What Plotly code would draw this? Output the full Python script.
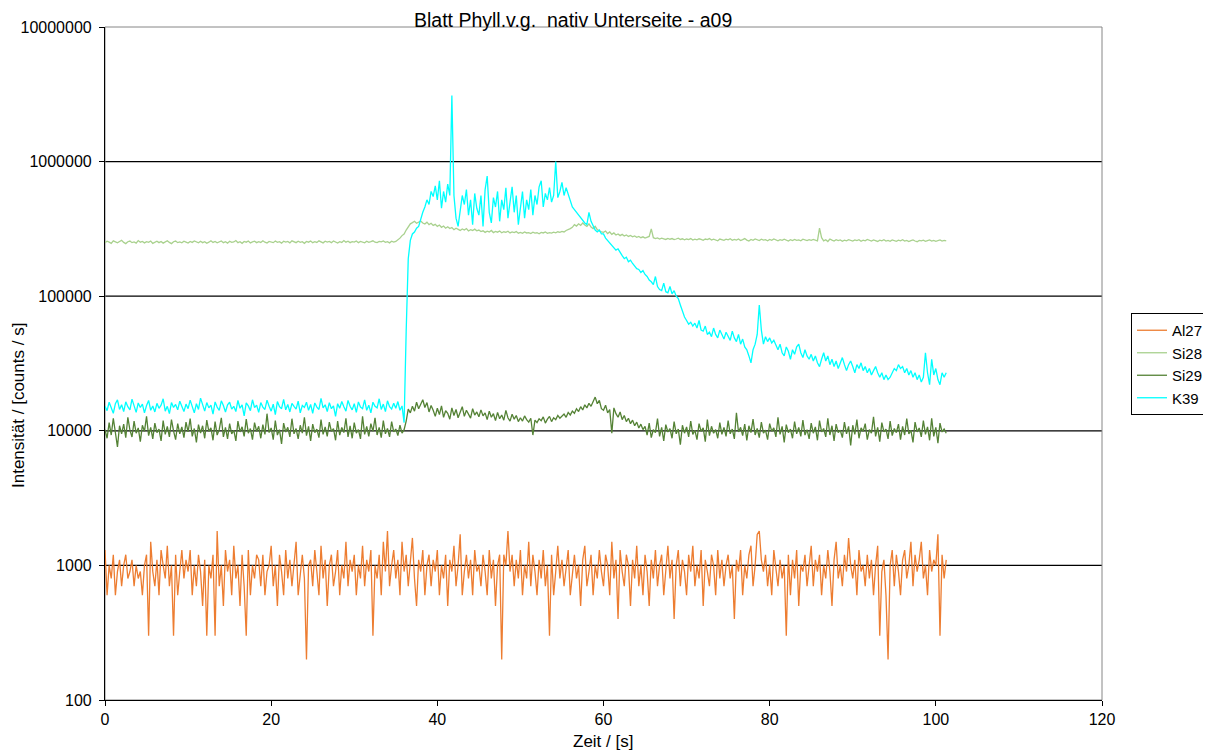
import plotly.graph_objects as go

# ---------------- data ----------------
time_start = 0.0
time_step = 0.25  # s

series_names = ["Al27", "Si28", "Si29", "K39"]
series_colors = ["#ED7D31", "#A9D18E", "#548235", "#00FFFF"]

al27 = [
    1300, 600, 1000, 800, 1200, 600, 900, 1100, 700, 1000, 1200, 800, 900, 1100, 700, 1000, 800, 900, 600, 1000,
    1200, 300, 1500, 900, 700, 1100, 600, 1300, 1000, 800, 1400, 700, 1000, 300, 1200, 600, 900, 1300, 800, 1100,
    900, 1300, 600, 1000, 700, 1200, 900, 500, 1100, 300, 1000, 800, 1200, 300, 1800, 700, 1000, 500, 1300, 900,
    1100, 600, 1400, 800, 1000, 500, 1200, 700, 300, 1300, 600, 1000, 800, 1200, 1100, 700, 1200, 600, 900, 1000,
    1400, 700, 1000, 500, 1200, 900, 600, 1300, 800, 1100, 700, 1000, 1500, 600, 900, 1200, 800, 200, 1000, 1100,
    700, 1300, 900, 600, 1400, 800, 1100, 500, 1000, 1200, 700, 900, 1300, 600, 1000, 800, 1500, 700, 1100, 900,
    1200, 600, 1000, 800, 1400, 700, 1100, 900, 1300, 300, 1000, 800, 1200, 600, 1500, 900, 1800, 700, 1000, 1300,
    800, 1100, 600, 1500, 900, 1200, 700, 1000, 1600, 800, 500, 1100, 900, 1300, 600, 1000, 1200, 700, 1100, 900,
    1300, 600, 1000, 800, 1200, 500, 1100, 900, 1400, 700, 1000, 1700, 600, 900, 1200, 800, 1100, 600, 1300, 900,
    1000, 700, 1200, 900, 600, 1300, 800, 1100, 500, 1000, 1200, 200, 1200, 1000, 1800, 900, 1200, 700, 1100, 800,
    1300, 600, 1000, 800, 1500, 700, 1200, 900, 600, 1100, 800, 1300, 700, 1000, 300, 1200, 600, 900, 1400, 800,
    1100, 700, 1000, 1300, 600, 900, 1200, 800, 1000, 500, 1100, 1400, 700, 900, 1200, 600, 1000, 800, 1300, 900,
    700, 1200, 1000, 600, 1500, 800, 1100, 400, 1300, 900, 700, 1200, 1000, 500, 1100, 800, 1400, 700, 1000, 600,
    1200, 900, 500, 1100, 800, 1300, 700, 1000, 1200, 600, 900, 1400, 800, 1100, 400, 1000, 1300, 700, 1100, 900,
    600, 1200, 900, 1400, 700, 1000, 800, 1300, 500, 1100, 900, 700, 1200, 1000, 600, 1300, 800, 1100, 700, 1000,
    1200, 800, 1000, 400, 1100, 900, 1300, 600, 1000, 800, 1200, 1400, 700, 1000, 1700, 1800, 1100, 900, 1200, 700,
    1000, 600, 1300, 900, 700, 1100, 800, 1000, 300, 1200, 600, 1100, 800, 1300, 500, 1000, 900, 1200, 700, 1000,
    1400, 700, 1100, 900, 1200, 600, 1000, 800, 1300, 900, 500, 1100, 1500, 800, 1000, 700, 1200, 900, 1600, 1000,
    800, 1100, 600, 1300, 900, 1000, 700, 1200, 800, 1100, 600, 1000, 1400, 300, 900, 1100, 600, 200, 1000, 1300,
    700, 1200, 900, 600, 1100, 1300, 800, 1000, 1500, 700, 1200, 900, 1100, 1500, 800, 1000, 600, 1300, 900, 1100,
    1000, 1700, 300, 1200, 800, 1100,
]

si28 = [
    250000, 256000, 252000, 247000, 258000, 253000, 249000, 255000, 260000, 251000, 246000, 254000, 257000, 250000, 253000, 248000, 259000, 252000, 255000, 249000,
    254000, 251000, 257000, 247000, 253000, 256000, 250000, 255000, 248000, 252000, 258000, 251000, 246000, 254000, 257000, 250000, 253000, 249000, 256000, 252000,
    248000, 255000, 251000, 257000, 253000, 249000, 256000, 250000, 254000, 247000, 252000, 258000, 251000, 255000, 249000, 253000, 257000, 250000, 254000, 248000,
    256000, 251000, 253000, 259000, 250000, 254000, 247000, 255000, 252000, 257000, 249000, 253000, 256000, 250000, 254000, 251000, 258000, 252000, 248000, 255000,
    253000, 250000, 257000, 251000, 254000, 248000, 256000, 252000, 255000, 249000, 258000, 253000, 250000, 256000, 251000, 254000, 247000, 255000, 252000, 257000,
    250000, 254000, 251000, 258000, 253000, 249000, 256000, 252000, 255000, 250000, 257000, 253000, 248000, 254000, 251000, 259000, 252000, 256000, 250000, 254000,
    252000, 257000, 250000, 255000, 253000, 249000, 256000, 251000, 254000, 258000, 252000, 250000, 255000, 253000, 257000, 251000, 254000, 249000, 256000, 252000,
    255000, 262000, 270000, 282000, 290000, 310000, 330000, 345000, 352000, 360000, 348000, 356000, 362000, 350000, 344000, 355000, 340000, 348000, 336000, 342000,
    330000, 338000, 325000, 332000, 320000, 328000, 318000, 324000, 312000, 320000, 315000, 308000, 316000, 310000, 318000, 305000, 312000, 308000, 315000, 306000,
    310000, 302000, 306000, 298000, 304000, 300000, 308000, 297000, 303000, 299000, 305000, 296000, 301000, 298000, 304000, 295000, 300000, 297000, 302000, 294000,
    298000, 293000, 300000, 295000, 297000, 292000, 299000, 294000, 296000, 291000, 298000, 295000, 300000, 293000, 297000, 294000, 299000, 296000, 301000, 298000,
    303000, 300000, 308000, 312000, 318000, 325000, 340000, 332000, 345000, 336000, 350000, 338000, 330000, 345000, 326000, 318000, 330000, 312000, 305000, 300000,
    298000, 305000, 292000, 300000, 288000, 295000, 285000, 290000, 282000, 288000, 280000, 285000, 278000, 283000, 276000, 280000, 274000, 278000, 272000, 276000,
    270000, 274000, 278000, 316000, 272000, 268000, 271000, 266000, 270000, 267000, 264000, 269000, 265000, 268000, 263000, 266000, 270000, 264000, 267000, 262000,
    266000, 263000, 268000, 261000, 265000, 262000, 267000, 264000, 260000, 266000, 263000, 268000, 261000, 265000, 262000, 258000, 266000, 263000, 260000, 265000,
    262000, 267000, 260000, 264000, 261000, 266000, 259000, 263000, 268000, 261000, 257000, 264000, 260000, 266000, 262000, 259000, 265000, 261000, 263000, 258000,
    264000, 260000, 266000, 262000, 258000, 263000, 260000, 265000, 261000, 257000, 263000, 259000, 264000, 260000, 262000, 258000, 265000, 261000, 259000, 263000,
    260000, 264000, 262000, 258000, 320000, 272000, 258000, 263000, 255000, 266000, 261000, 257000, 263000, 259000, 262000, 256000, 261000, 258000, 263000, 260000,
    257000, 262000, 259000, 263000, 256000, 261000, 258000, 264000, 260000, 257000, 262000, 259000, 255000, 261000, 258000, 263000, 257000, 260000, 256000, 262000,
    259000, 256000, 261000, 258000, 263000, 257000, 260000, 255000, 259000, 262000, 257000, 254000, 260000, 258000, 261000, 256000, 259000, 262000, 257000, 260000,
    256000, 259000, 262000, 257000, 260000, 258000,
]

si29 = [
    10200, 8800, 11500, 9300, 12400, 9800, 7600, 10900, 9500, 11200, 8900, 12600, 10100, 9000, 11800, 9600, 10500, 8300, 11000, 9900,
    12800, 9200, 10600, 8700, 11400, 9700, 10300, 8400, 11900, 9400, 10800, 9000, 12100, 10000, 8600, 11300, 9500, 10700, 8900, 11600,
    9800, 12300, 9100, 10400, 8200, 11100, 9600, 10900, 8800, 12000, 9900, 10500, 8500, 11700, 9300, 10200, 12500, 9000, 10600, 8700,
    11300, 9500, 10100, 8400, 11800, 9800, 10700, 9100, 12200, 9600, 10400, 8600, 11500, 9900, 10800, 8800, 11100, 9400, 13400, 9700,
    10500, 8600, 11900, 9300, 10200, 8000, 11400, 9800, 10600, 9000, 12300, 9500, 10400, 8700, 11000, 9600, 12600, 9200, 10800, 8400,
    11200, 9700, 10300, 8900, 12100, 9400, 10700, 9100, 11600, 9900, 10400, 8500, 11800, 9300, 10600, 9700, 12400, 9000, 10900, 8800,
    11500, 9600, 10200, 8700, 12800, 9400, 10800, 9100, 11300, 9900, 12500, 9300, 10600, 8900, 11900, 9500, 10400, 9000, 11700, 9800,
    10300, 9200, 11000, 9600, 10200, 11800, 14500, 13600, 15200, 14000, 16300, 14600, 15800, 17000, 14900, 16200, 13800, 15400, 14200, 12800,
    14700, 13200, 15300, 12600, 14100, 13500, 12200, 14800, 13000, 14400, 12500, 13900, 15100, 12800, 14200, 13300, 12400, 14600, 13100, 13800,
    12700, 14300, 12900, 13600, 12100, 14000, 12600, 13400, 11900, 13700, 12300, 13100, 12000, 14200, 12500, 11800, 13300, 12200, 13000, 11700,
    12500, 11800, 12900, 12100, 11600, 12400, 9300, 12000, 11500, 12300, 11900, 12700, 11400, 12200, 12800, 11700, 12500, 12100, 13000, 12400,
    12800, 13300, 12600, 13700, 13100, 14000, 13500, 14600, 13900, 15100, 14300, 15600, 14800, 16000, 15200, 16700, 17800, 15900, 16800, 14600,
    14200, 15500, 13600, 14400, 9600, 14800, 13400, 12600, 13800, 12100, 13000, 11700, 12400, 11300, 12000, 10900, 11600, 10500, 11200, 10200,
    10800, 9300, 11400, 8900, 10200, 9700, 12300, 9100, 10600, 8400, 11100, 9800, 10400, 8800, 11700, 9500, 10300, 7900, 11000, 9600,
    10700, 9000, 11800, 9400, 10100, 8600, 11300, 9900, 10500, 8300, 12100, 9200, 10800, 9600, 10200, 8800, 11500, 9400, 10600, 9100,
    11900, 9500, 10300, 8700, 13600, 9800, 10600, 9200, 11200, 8500, 10900, 9700, 12200, 9300, 10400, 8900, 11600, 9600, 10100, 8600,
    11300, 9900, 10500, 9000, 12600, 9400, 10800, 8200, 11100, 9700, 10300, 8800, 11700, 9500, 10600, 9100, 12000, 9300, 10200, 8700,
    11400, 9600, 10700, 8500, 11900, 9800, 10400, 9000, 12400, 9300, 10900, 8400, 11200, 9700, 10100, 8900, 11600, 9500, 10800, 7800,
    11000, 9400, 12100, 8800, 10500, 9900, 11300, 8600, 10200, 9600, 12700, 9100, 10600, 8300, 11500, 9800, 10300, 8700, 11800, 9200,
    10400, 9700, 11200, 8600, 10800, 9300, 12300, 9500, 10100, 8200, 11600, 9800, 10500, 9000, 11900, 9400, 10700, 8500, 12400, 9100,
    10600, 8100, 11400, 9800, 10300, 9600,
]

k39 = [
    15200, 14100, 16300, 14800, 13500, 15900, 17000, 14400, 15600, 13900, 16400, 15100, 14300, 17200, 15000, 13700, 16100, 14900, 15800, 13600,
    15400, 16800, 14200, 15300, 13800, 16000, 14700, 15500, 17300, 14000, 15200, 13400, 16200, 14900, 15700, 14300, 16600, 15000, 13900, 15800,
    14600, 16900, 15100, 13600, 15900, 14400, 17500, 15300, 14000, 16200, 14800, 15500, 13300, 16400, 15000, 14200, 16700, 15400, 13800, 15600,
    16300, 14500, 15200, 13900, 16800, 14700, 15600, 12900, 16100, 15300, 14100, 17000, 14900, 15500, 13700, 16200, 15000, 14400, 16900, 15200,
    14000, 15800, 13200, 16500, 15100, 14600, 17100, 14300, 15700, 13800, 16000, 15200, 14500, 16600, 13600, 15400, 14900, 16300, 14200, 15700,
    13500, 16100, 15000, 14400, 17400, 14800, 15600, 13900, 16200, 14600, 15300, 12800, 15900, 14700, 16500, 15100, 14000, 16800, 15200, 14300,
    15900, 13700, 16400, 15000, 14600, 17000, 14200, 15500, 13600, 16300, 15200, 14800, 17300, 14400, 15800, 13900, 16700, 15100, 14500, 16000,
    14700, 16500, 14200, 15300, 11500, 55000, 190000, 260000, 290000, 300000, 320000, 330000, 380000, 420000, 460000, 520000, 480000, 600000, 550000, 660000,
    520000, 720000, 450000, 600000, 500000, 680000, 560000, 3100000, 560000, 380000, 330000, 450000, 560000, 480000, 620000, 400000, 520000, 340000, 580000, 450000,
    400000, 560000, 330000, 620000, 780000, 420000, 350000, 540000, 460000, 600000, 360000, 520000, 440000, 640000, 380000, 500000, 650000, 420000, 560000, 340000,
    470000, 600000, 380000, 520000, 440000, 620000, 400000, 560000, 480000, 650000, 720000, 460000, 580000, 520000, 640000, 500000, 560000, 1000000, 540000, 600000,
    700000, 560000, 640000, 580000, 520000, 460000, 440000, 420000, 400000, 380000, 360000, 350000, 340000, 420000, 360000, 330000, 310000, 300000, 310000, 290000,
    290000, 270000, 260000, 250000, 240000, 230000, 220000, 225000, 210000, 200000, 190000, 195000, 180000, 185000, 175000, 168000, 160000, 158000, 150000, 155000,
    145000, 140000, 132000, 128000, 122000, 140000, 118000, 112000, 110000, 125000, 108000, 106000, 118000, 104000, 110000, 100000, 96000, 86000, 76000, 70000,
    66000, 62000, 64000, 60000, 63000, 58000, 66000, 56000, 55000, 60000, 52000, 54000, 50000, 58000, 52000, 49000, 56000, 51000, 48000, 54000,
    50000, 47000, 55000, 49000, 46000, 52000, 44000, 48000, 42000, 40000, 36000, 32000, 40000, 44000, 52000, 86000, 56000, 44000, 50000, 46000,
    49000, 45000, 47000, 43000, 40000, 44000, 38000, 36000, 42000, 39000, 34000, 40000, 37000, 42000, 44000, 38000, 35000, 40000, 36000, 34000,
    37000, 33000, 36000, 32000, 30000, 34000, 38000, 33000, 36000, 31000, 34000, 30000, 33000, 29000, 32000, 35000, 31000, 28000, 31000, 33000,
    30000, 27000, 31000, 29000, 32000, 28000, 30000, 27000, 29000, 26000, 28000, 30000, 27000, 25000, 27000, 24000, 26000, 24000, 25000, 27000,
    29000, 28000, 31000, 29000, 30000, 27000, 29000, 26000, 28000, 25000, 27000, 24000, 26000, 23000, 25000, 38000, 27000, 22000, 34000, 26000,
    29000, 24000, 22000, 27000, 25000, 27000,
]

y_tick_values = [100, 1000, 10000, 100000, 1000000, 10000000]
y_tick_labels = ["100", "1000", "10000", "100000", "1000000", "10000000"]
x_tick_values = [0, 20, 40, 60, 80, 100, 120]

title_text = "Blatt Phyll.v.g.  nativ Unterseite - a09"
x_title = "Zeit / [s]"
y_title = "Intensität / [counts / s]"

# ---------------- figure ----------------
FONT = "Liberation Sans, Arial, sans-serif"
OFF = 8                      # page body margin of the browser
W, H = 1211 - OFF, 751 - OFF
PL, PR, PT, PB = 105, 1102, 27, 700   # plot area in screen pixels
L, R, T, B = PL - OFF, (W + OFF) - PR, PT - OFF, (H + OFF) - PB
PW, PH = PR - PL, PB - PT


def px(xs):
    return (xs - PL) / PW


def py(ys):
    return (PB - ys) / PH


fig = go.Figure()
all_series = [al27, si28, si29, k39]
for name, color, values in zip(series_names, series_colors, all_series):
    t = [round(time_start + i * time_step, 4) for i in range(len(values))]
    fig.add_trace(go.Scatter(
        x=t, y=values, mode="lines", name=name,
        line=dict(color=color, width=1.3),
        hoverinfo="x+y+name",
    ))

shapes = []
for v in y_tick_values[1:-1]:
    shapes.append(dict(type="line", xref="paper", yref="y", x0=0, x1=1, y0=v, y1=v,
                       line=dict(color="#000000", width=1.2), layer="below"))
shapes.append(dict(type="rect", xref="paper", yref="paper", x0=0, x1=1, y0=0, y1=1,
                   line=dict(color="#868686", width=1), layer="below"))

fig.update_layout(
    width=W, height=H,
    margin=dict(l=L, r=R, t=T, b=B, autoexpand=False),
    paper_bgcolor="white", plot_bgcolor="white",
    font=dict(family=FONT, size=16, color="#000000"),
    showlegend=True,
    legend=dict(
        x=px(1209), y=py(313),
        xanchor="right", yanchor="top",
        bordercolor="#000000", borderwidth=1,
        font=dict(family=FONT, size=15, color="#000000"),
        itemwidth=30, tracegroupgap=0,
    ),
    shapes=shapes,
    annotations=[
        dict(text=title_text, xref="paper", yref="paper",
             x=px(573), y=py(20),
             xanchor="center", yanchor="middle", showarrow=False,
             font=dict(family=FONT, size=19.5, color="#000000")),
        dict(text=x_title, xref="paper", yref="paper",
             x=px(603), y=py(741),
             xanchor="center", yanchor="middle", showarrow=False,
             font=dict(family=FONT, size=17, color="#000000")),
        dict(text=y_title, xref="paper", yref="paper",
             x=px(18), y=py(406),
             xanchor="center", yanchor="middle", showarrow=False, textangle=-90,
             font=dict(family=FONT, size=17, color="#000000")),
    ],
)

fig.update_xaxes(
    range=[0, 120], tickvals=x_tick_values, ticks="outside", ticklen=5, tickcolor="#000000",
    showline=True, linecolor="#000000", linewidth=1.2, showgrid=False, zeroline=False,
    tickfont=dict(family=FONT, size=16, color="#000000"),
)
fig.update_yaxes(
    type="log", range=[2, 7], tickvals=y_tick_values, ticktext=y_tick_labels,
    ticks="outside", ticklen=5, tickcolor="#000000", ticklabelstandoff=4,
    showline=True, linecolor="#000000", linewidth=1.2, showgrid=False, zeroline=False,
    tickfont=dict(family=FONT, size=16, color="#000000"),
)

fig.write_html("out.html")
